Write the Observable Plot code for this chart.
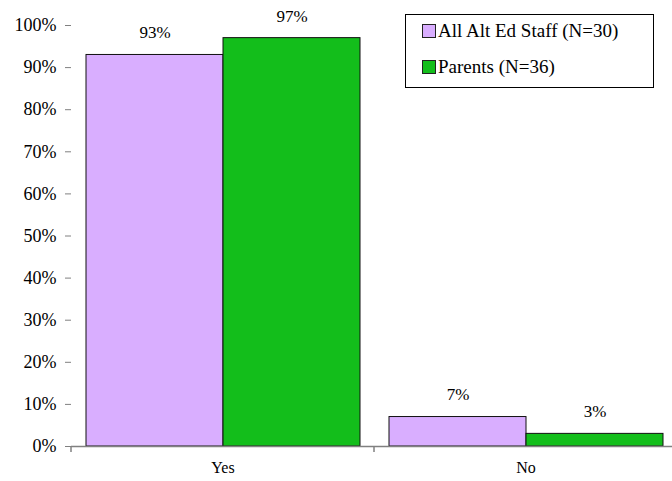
<!DOCTYPE html>
<html><head><meta charset="utf-8">
<script src="https://cdn.jsdelivr.net/npm/d3@7"></script>
<script src="https://cdn.jsdelivr.net/npm/@observablehq/plot@0.6"></script>
<style>
body{margin:0;background:#fff;}
#wrap{position:relative;width:672px;height:481px;overflow:hidden;font-family:"Liberation Serif","Times New Roman",serif;}
#wrap svg{overflow:hidden;}
.legend{position:absolute;left:405px;top:14px;width:247px;height:72px;border:1px solid #000;background:#fff;box-sizing:content-box;}
.legend .item{position:absolute;left:16px;display:flex;align-items:center;font-size:19px;color:#000;white-space:nowrap;}
.legend .sw{width:12px;height:12px;border:1px solid #222;margin-right:2px;}
</style></head>
<body><div id="wrap"></div>
<script>
const categories = ["Yes", "No"];
const seriesNames = ["All Alt Ed Staff (N=30)", "Parents (N=36)"];
const staffValues = [0.93, 0.07];
const parentValues = [0.97, 0.03];
const seriesColors = ["#D9AEFF", "#13BE1B"];
const yTicks = [0, 0.1, 0.2, 0.3, 0.4, 0.5, 0.6, 0.7, 0.8, 0.9, 1];

const data = [];
categories.forEach((c, i) => {
  data.push({cat: c, series: seriesNames[0], value: staffValues[i]});
  data.push({cat: c, series: seriesNames[1], value: parentValues[i]});
});
const pct = d => Math.round(d * 100) + "%";
const FONT = '"Liberation Serif","Times New Roman",serif';

const plot = Plot.plot({
  width: 672, height: 481,
  marginLeft: 70, marginRight: -5, marginTop: 25, marginBottom: 35,
  style: {fontFamily: FONT, fontSize: "17px", background: "transparent", color: "#000"},
  fx: {domain: categories, padding: 0, label: null, axis: null},
  x: {domain: seriesNames, paddingInner: 0, paddingOuter: 0.1, axis: null},
  y: {domain: [0, 1], label: null, axis: null},
  color: {domain: seriesNames, range: seriesColors},
  marks: [
    Plot.barY(data, {fx: "cat", x: "series", y: "value", fill: "series", stroke: "#111", strokeWidth: 1}),
    Plot.text(data, {fx: "cat", x: "series", y: "value", text: d => pct(d.value), dy: -22, fontSize: 17, fill: "#000"}),
    Plot.ruleY([0], {stroke: "#808080", strokeWidth: 1.5}),
    Plot.axisY({ticks: yTicks, tickFormat: pct, tickSize: 6, tickPadding: 9, stroke: "#808080", fill: "#000", fontSize: 18, label: null, line: true}),
    Plot.axisFx({anchor: "bottom", tickSize: 0, tickPadding: 15, fontSize: 16, fill: "#000", label: null})
  ]
});
document.getElementById("wrap").appendChild(plot);

// category boundary ticks on the x axis
const fx = plot.scale("fx");
const y0 = plot.scale("y").apply(0);
const svg = d3.select(plot);
const bounds = new Set();
categories.forEach(c => { const s = fx.apply(c); bounds.add(s); bounds.add(s + fx.bandwidth); });
[...bounds].forEach(b => {
  svg.append("line").attr("x1", b).attr("x2", b).attr("y1", y0).attr("y2", y0 + 6)
    .attr("stroke", "#808080").attr("stroke-width", 1.5);
});

// legend
const leg = d3.select("#wrap").append("div").attr("class", "legend");
seriesNames.forEach((n, i) => {
  const it = leg.append("div").attr("class", "item").style("top", (i === 0 ? 5 : 41) + "px");
  it.append("div").attr("class", "sw").style("background", seriesColors[i]);
  it.append("span").text(n);
});
</script></body></html>
